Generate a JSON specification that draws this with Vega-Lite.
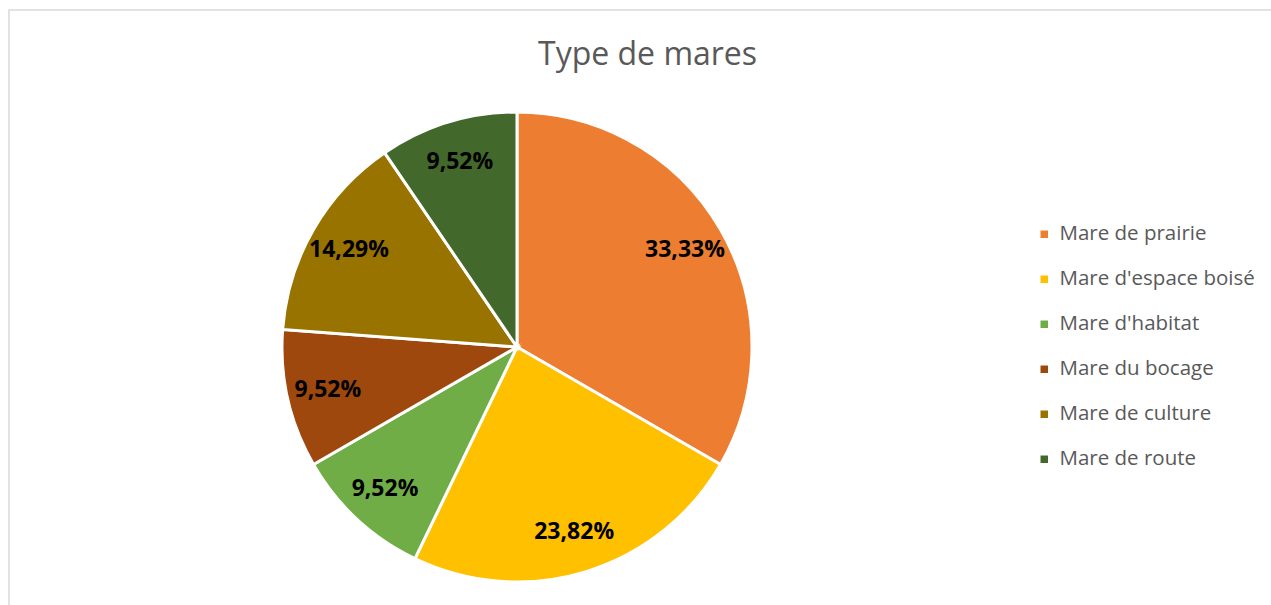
{
  "$schema": "https://vega.github.io/schema/vega-lite/v6.json",
  "width": 1267,
  "height": 600,
  "autosize": {"type": "none"},
  "padding": {"left": 9, "top": 10, "right": -5, "bottom": -5},
  "background": "white",
  "view": {"stroke": "#d9d9d9", "strokeWidth": 1.5, "fill": "white"},
  "config": {
    "locale": {"number": {"decimal": ",", "thousands": " ", "grouping": [3], "currency": ["", " €"]}},
    "font": "Open Sans"
  },
  "title": {
    "text": "Type de mares",
    "anchor": "start",
    "frame": "group",
    "offset": -62,
    "dx": 529,
    "font": "Open Sans",
    "fontSize": 32,
    "fontWeight": "normal",
    "color": "#595959"
  },
  "data": {
    "values": [
      {"type": "Mare de prairie", "share": 0.3333, "rank": 1},
      {"type": "Mare d'espace boisé", "share": 0.2382, "rank": 2},
      {"type": "Mare d'habitat", "share": 0.0952, "rank": 3},
      {"type": "Mare du bocage", "share": 0.0952, "rank": 4},
      {"type": "Mare de culture", "share": 0.1429, "rank": 5},
      {"type": "Mare de route", "share": 0.0952, "rank": 6}
    ]
  },
  "encoding": {
    "theta": {"field": "share", "type": "quantitative", "stack": true},
    "order": {"field": "rank", "type": "quantitative"},
    "color": {
      "field": "type",
      "type": "nominal",
      "scale": {
        "domain": ["Mare de prairie", "Mare d'espace boisé", "Mare d'habitat", "Mare du bocage", "Mare de culture", "Mare de route"],
        "range": ["#ED7D31", "#FFC000", "#70AD47", "#9E480E", "#997300", "#43682B"]
      },
      "legend": {
        "title": null,
        "orient": "none",
        "legendX": 1025,
        "legendY": 214,
        "symbolType": "square",
        "symbolSize": 56,
        "symbolStrokeWidth": 0,
        "labelFont": "Open Sans",
        "labelFontSize": 20.5,
        "labelColor": "#595959",
        "labelOffset": 5,
        "rowPadding": 24,
        "labelLimit": 300
      }
    }
  },
  "layer": [
    {
      "mark": {"type": "arc", "outerRadius": 235, "x": 508, "y": 337, "stroke": "white", "strokeWidth": 3}
    },
    {
      "mark": {"type": "text", "radius": 194, "x": 508, "y": 337, "font": "Open Sans", "fontSize": 23, "fontWeight": "bold", "color": "black"},
      "encoding": {
        "text": {"field": "share", "type": "quantitative", "format": ".2%"},
        "color": {"value": "black"}
      }
    }
  ]
}
